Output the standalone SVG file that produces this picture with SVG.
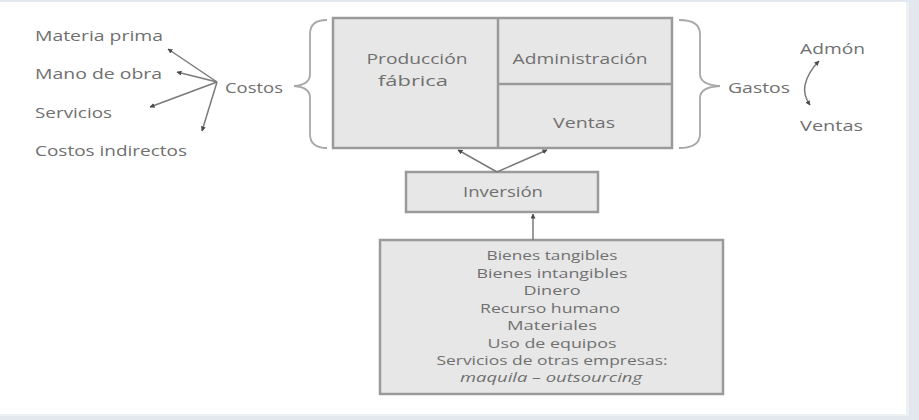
<svg xmlns="http://www.w3.org/2000/svg" width="919" height="420" viewBox="0 0 919 420">
<style>
.t{font-family:"Open Sans","Noto Sans","Liberation Sans",sans-serif;font-size:14px;fill:#707070;text-anchor:middle;dominant-baseline:central}
.s{font-size:12.5px}
.l{text-anchor:start}
.box{fill:#e7e7e7;stroke:#9a9a9a;stroke-width:2.5}
.div{stroke:#9a9a9a;stroke-width:2.5;fill:none}
.c{stroke:#7a7a7a;stroke-width:1.5;fill:none}
.br{stroke:#a8a8a8;stroke-width:1.8;fill:none}
</style>
<defs>
<marker id="ah" viewBox="0 0 10 10" refX="9" refY="5" markerWidth="5" markerHeight="5" orient="auto-start-reverse" markerUnits="userSpaceOnUse">
<path d="M0,0 L10,5 L0,10 z" fill="#4a4a4a"/>
</marker>
</defs>
<rect x="0" y="0" width="919" height="420" fill="#e2e8ee"/>
<rect x="0" y="2" width="909" height="414" fill="#eef1f3"/>
<rect x="0" y="2" width="906" height="412" fill="#ffffff"/>

<g id="costos-items">
<text class="t l" x="35" y="35" textLength="128" lengthAdjust="spacingAndGlyphs">Materia prima</text>
<text class="t l" x="35" y="73" textLength="127" lengthAdjust="spacingAndGlyphs">Mano de obra</text>
<text class="t l" x="35" y="112" textLength="77" lengthAdjust="spacingAndGlyphs">Servicios</text>
<text class="t l" x="35" y="150" textLength="152" lengthAdjust="spacingAndGlyphs">Costos indirectos</text>
</g>
<g id="costos">
<text class="t l" x="225" y="87" textLength="58" lengthAdjust="spacingAndGlyphs">Costos</text>
</g>
<g id="llave-izq">
<path class="br" d="M327,20 Q310,20 310,34 L310,74 Q310,85 294,86 Q310,87 310,98 L310,134 Q310,148 327,148"/>
</g>
<g id="centro">
<rect class="box" x="333" y="18" width="339" height="130"/>
<line class="div" x1="498" y1="18" x2="498" y2="148"/>
<line class="div" x1="498" y1="84" x2="672" y2="84"/>
<text class="t" x="417" y="58" textLength="101" lengthAdjust="spacingAndGlyphs">Producción</text>
<text class="t" x="413" y="80" textLength="70" lengthAdjust="spacingAndGlyphs">fábrica</text>
<text class="t" x="580" y="58" textLength="135" lengthAdjust="spacingAndGlyphs">Administración</text>
<text class="t" x="584" y="122" textLength="62" lengthAdjust="spacingAndGlyphs">Ventas</text>
</g>
<g id="llave-der">
<path class="br" d="M679,20 Q700,20 700,34 L700,74 Q700,85 720,86 Q700,87 700,98 L700,134 Q700,148 679,148"/>
</g>
<g id="gastos">
<text class="t l" x="728" y="87" textLength="62" lengthAdjust="spacingAndGlyphs">Gastos</text>
</g>
<g id="gastos-items">
<text class="t l" x="800" y="48" textLength="65" lengthAdjust="spacingAndGlyphs">Admón</text>
<text class="t l" x="800" y="125" textLength="63" lengthAdjust="spacingAndGlyphs">Ventas</text>
</g>
<g id="inversion">
<rect class="box" x="406" y="172" width="192" height="40"/>
<text class="t" x="503" y="191" textLength="80" lengthAdjust="spacingAndGlyphs">Inversión</text>
</g>
<g id="recursos">
<rect class="box" x="380" y="240" width="343" height="154"/>
<text class="t s" x="552" y="255" textLength="131" lengthAdjust="spacingAndGlyphs">Bienes tangibles</text>
<text class="t s" x="552" y="273" textLength="151" lengthAdjust="spacingAndGlyphs">Bienes intangibles</text>
<text class="t s" x="552" y="290" textLength="57" lengthAdjust="spacingAndGlyphs">Dinero</text>
<text class="t s" x="550" y="308" textLength="140" lengthAdjust="spacingAndGlyphs">Recurso humano</text>
<text class="t s" x="552" y="325" textLength="90" lengthAdjust="spacingAndGlyphs">Materiales</text>
<text class="t s" x="552" y="343" textLength="129" lengthAdjust="spacingAndGlyphs">Uso de equipos</text>
<text class="t s" x="552" y="360" textLength="231" lengthAdjust="spacingAndGlyphs">Servicios de otras empresas:</text>
<text class="t s" x="551" y="377" textLength="182" lengthAdjust="spacingAndGlyphs" font-style="italic">maquila – outsourcing</text>
</g>
<g id="conectores">
<line class="c" x1="217" y1="82" x2="168" y2="49" marker-end="url(#ah)"/>
<line class="c" x1="217" y1="82" x2="177" y2="72" marker-end="url(#ah)"/>
<line class="c" x1="217" y1="82" x2="150" y2="107" marker-end="url(#ah)"/>
<line class="c" x1="217" y1="82" x2="202" y2="131" marker-end="url(#ah)"/>
<path class="c" d="M805,85 Q808,72 819,61" marker-end="url(#ah)"/>
<path class="c" d="M805,85 Q803,95 810,105" marker-end="url(#ah)"/>
<line class="c" x1="497" y1="172" x2="458" y2="150" marker-end="url(#ah)"/>
<line class="c" x1="497" y1="172" x2="547" y2="150" marker-end="url(#ah)"/>
<line class="c" x1="533" y1="240" x2="533" y2="214" marker-end="url(#ah)"/>
</g>
</svg>
